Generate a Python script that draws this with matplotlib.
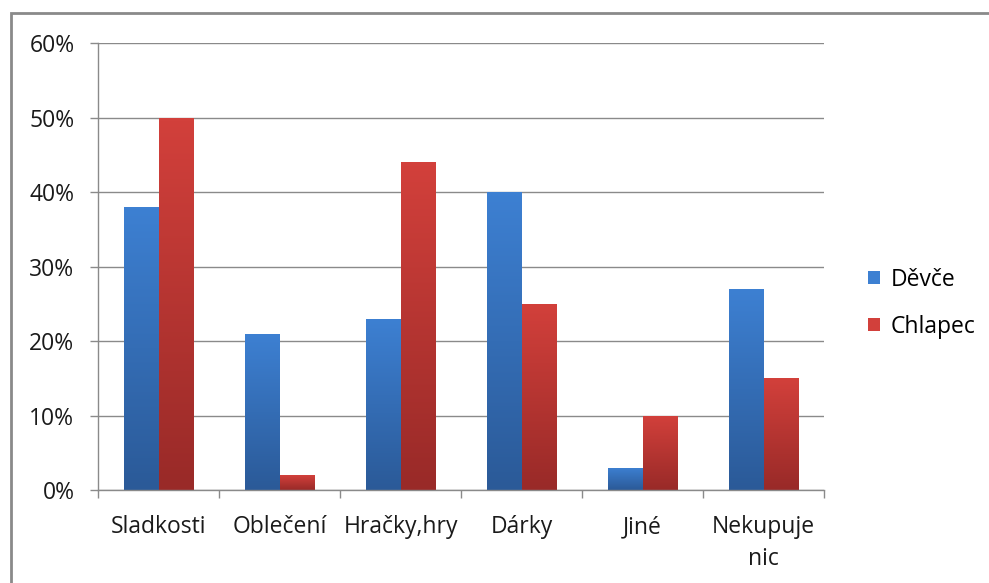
import numpy as np
import matplotlib
matplotlib.use('Agg')
import matplotlib.pyplot as plt
from matplotlib.colors import LinearSegmentedColormap
from matplotlib.patches import Rectangle, Patch

categories = ['Sladkosti', 'Oblečení', 'Hračky,hry', 'Dárky', 'Jiné', 'Nekupuje\nnic']
devce = [38, 21, 23, 40, 3, 27]
chlapec = [50, 2, 44, 25, 10, 15]
series_names = ['Děvče', 'Chlapec']

blue_top, blue_bot = '#3d80d2', '#2b5a98'
red_top, red_bot = '#d2403b', '#992a28'

plt.rcParams['font.family'] = ['Open Sans', 'DejaVu Sans']

fig = plt.figure(figsize=(9.89, 5.83), dpi=100)
ax = fig.add_axes([0.0991, 0.1595, 0.7341, 0.7667])

x = np.arange(len(categories))
w = 0.286
b1 = ax.bar(x - w / 2, devce, w, color='none', edgecolor='none')
b2 = ax.bar(x + w / 2, chlapec, w, color='none', edgecolor='none')


def shade(bars, top, bot):
    # vertical gradient inside each bar, lighter at the top
    cmap = LinearSegmentedColormap.from_list('g', [bot, top])
    grad = np.linspace(0, 1, 64).reshape(-1, 1)
    for p in bars:
        x0, y0 = p.get_x(), p.get_y()
        x1, y1 = x0 + p.get_width(), y0 + p.get_height()
        im = ax.imshow(grad, cmap=cmap, extent=(x0, x1, y0, y1), origin='lower',
                       aspect='auto', interpolation='bilinear', zorder=2)
        im.set_clip_path(p)


shade(b1, blue_top, blue_bot)
shade(b2, red_top, red_bot)

fs = 16.5
ax.set_xlim(-0.5, len(categories) - 0.5)
ax.set_ylim(0, 60)
ax.set_yticks(range(0, 61, 10))
ax.set_yticklabels([f'{v}%' for v in range(0, 61, 10)])
ax.yaxis.grid(True, color='#8a8a8a', linewidth=1)
ax.set_axisbelow(True)

ax.set_xticks(x)
ax.set_xticklabels(categories, linespacing=1.45)
ax.set_xticks(np.arange(-0.5, len(categories)), minor=True)
ax.tick_params(axis='x', which='major', length=0, pad=18, labelsize=fs, colors='#1a1a1a')
ax.tick_params(axis='x', which='minor', length=6, width=1, color='#8a8a8a')
ax.tick_params(axis='y', length=6, width=1, color='#8a8a8a', pad=11, labelsize=fs, labelcolor='#1a1a1a')

for s in ['top', 'right']:
    ax.spines[s].set_visible(False)
for s in ['left', 'bottom']:
    ax.spines[s].set_color('#8a8a8a')
    ax.spines[s].set_linewidth(1)

handles = [Patch(facecolor=blue_top, edgecolor='none'), Patch(facecolor=red_top, edgecolor='none')]
fig.legend(handles, series_names, loc='center left', bbox_to_anchor=(0.857, 0.48),
           frameon=False, fontsize=fs, handlelength=0.5, handleheight=0.5,
           handletextpad=0.5, labelspacing=1.0)

# outer chart border
fig.patches.append(Rectangle((11 / 989, -0.1), 1.2, 1 - 13 / 583 + 0.1,
                             transform=fig.transFigure, fill=False,
                             edgecolor='#8a8a8a', linewidth=2, zorder=0))

fig.savefig('out.png', dpi=100)
